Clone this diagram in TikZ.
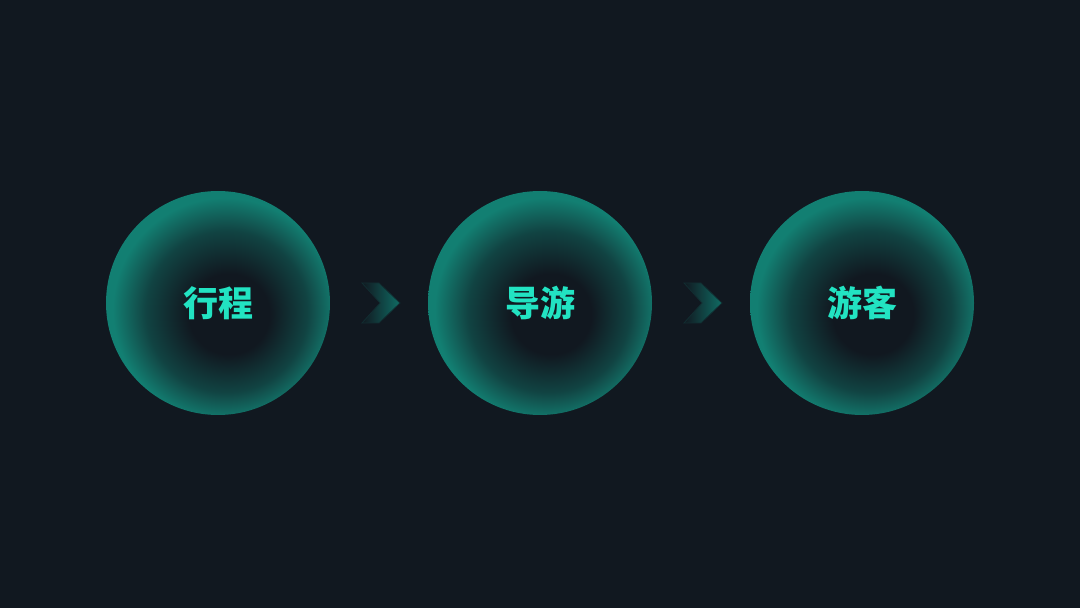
\documentclass[tikz,border=0pt]{standalone}
\usepackage{fontspec}
\newfontfamily\cjk{Noto Sans CJK SC}
\usetikzlibrary{calc}
\definecolor{bgc}{HTML}{111820}
\definecolor{orbc}{HTML}{127F72}
\definecolor{labelc}{HTML}{22E3C2}
\definecolor{chevc}{HTML}{106C64}
\pgfdeclareradialshading{orb}{\pgfpoint{3bp}{-3bp}}{color(0bp)=(bgc); color(9bp)=(bgc); color(18bp)=(orbc!42!bgc); color(25bp)=(orbc); color(50bp)=(orbc)}
\newcommand*{\ChevronAt}[1]{% #1 = centre between two orbs
\shade [left color=bgc, right color=chevc, draw=chevc!25!bgc, line width=0.4pt]
($(#1)+(-19,-20)$) -- ++(17,0) -- ++(21,20) -- ++(-21,20)
-- ++(-17,0) -- ++(18,-20) -- cycle;
}
\tikzset{
orb/.style={circle, minimum size=112pt, inner sep=0pt, shading=orb},
orblabel/.style={text=labelc, font=\cjk\bfseries\fontsize{17.5}{17.5}\selectfont}
}

\begin{document}
\begin{tikzpicture}[x=0.5pt,y=-0.5pt]

            \fill [bgc] (0,0) rectangle (1080,608);
            \foreach \name/\x/\text in {trip/218/{行程}, guide/540/{导游}, tourist/862/{游客}} {
                \node [orb, orblabel] (\name) at (\x,303) {\text};
            }
            \ChevronAt{$(trip)!0.5!(guide)+(2,0)$}
            \ChevronAt{$(guide)!0.5!(tourist)+(2,0)$}
        \end{tikzpicture}
\end{document}
